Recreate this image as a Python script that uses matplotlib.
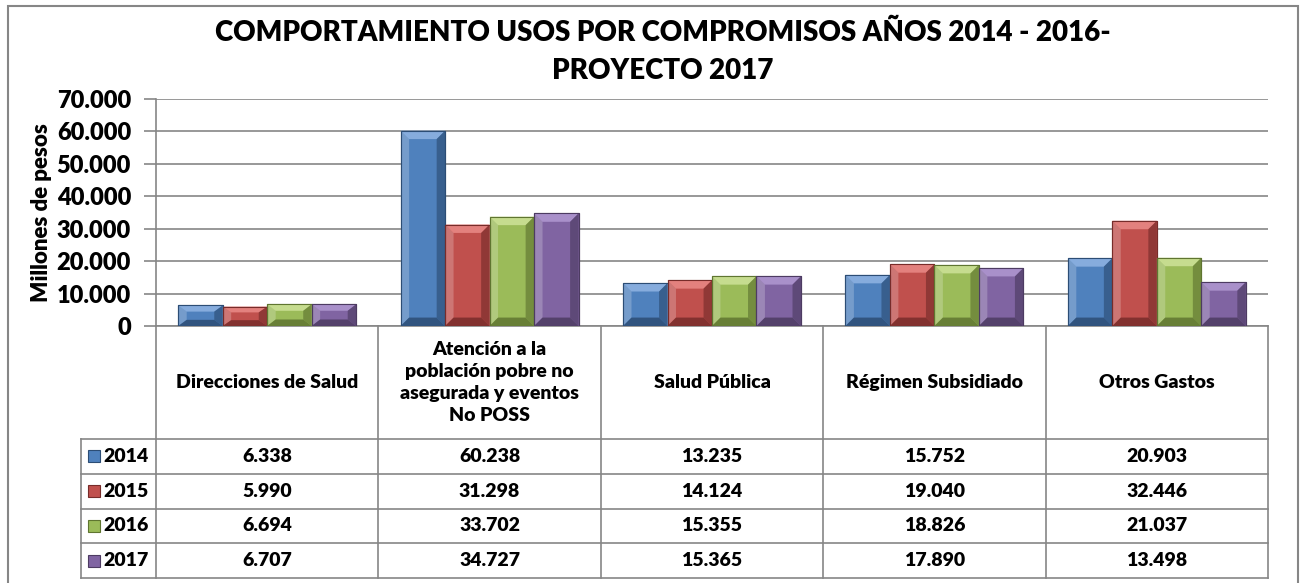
import matplotlib
matplotlib.use("Agg")
import matplotlib.pyplot as plt
from matplotlib.patches import Polygon, Rectangle
from matplotlib.lines import Line2D
import matplotlib.transforms as mtransforms
import numpy as np

plt.rcParams['font.family'] = ['Lato', 'DejaVu Sans']
PESO = 'heavy'

categorias = ["Direcciones de Salud",
              "Atención a la\npoblación pobre no\nasegurada y eventos\nNo POSS",
              "Salud Pública",
              "Régimen Subsidiado",
              "Otros Gastos"]
anios = ["2014", "2015", "2016", "2017"]
v2014 = [6338, 60238, 13235, 15752, 20903]
v2015 = [5990, 31298, 14124, 19040, 32446]
v2016 = [6694, 33702, 15355, 18826, 21037]
v2017 = [6707, 34727, 15365, 17890, 13498]
series = [v2014, v2015, v2016, v2017]

# base, claro, oscuro
colores = [("#4F81BD", "#86ACDD", "#2C4D75"),
           ("#C0504D", "#E3817E", "#772C2A"),
           ("#9BBB59", "#C6DC8F", "#5F7530"),
           ("#8064A2", "#A990CA", "#4D3B62")]

W, H = 1300, 583
fig = plt.figure(figsize=(13, 5.83), dpi=100)


def fx(px):
    return px / W


def fy(py):
    return 1 - py / H


ax = fig.add_axes([fx(156), fy(326), fx(1268) - fx(156), fy(99) - fy(326)])

x = np.arange(len(categorias))
ancho = 0.2
bx = 0.038
for i, vals in enumerate(series):
    base, claro, oscuro = colores[i]
    pos = x + (i - 1.5) * ancho
    bars = ax.bar(pos, vals, width=ancho, color=base, edgecolor=oscuro, linewidth=0.8, zorder=3)
    for b in bars:
        x0, x1 = b.get_x(), b.get_x() + b.get_width()
        h = b.get_height()
        by = min(2600, h * 0.3)
        # cara superior clara
        ax.add_patch(Polygon([(x0, h), (x1, h), (x1 - bx, h - by), (x0 + bx, h - by)],
                             closed=True, color=claro, lw=0, zorder=4))
        # lado izquierdo
        ax.add_patch(Polygon([(x0, h), (x0 + bx, h - by), (x0 + bx, by), (x0, 0)],
                             closed=True, color="white", alpha=0.22, lw=0, zorder=4))
        # lado derecho oscuro
        ax.add_patch(Polygon([(x1, h), (x1 - bx, h - by), (x1 - bx, by), (x1, 0)],
                             closed=True, color=oscuro, alpha=0.65, lw=0, zorder=4))
        # base oscura
        ax.add_patch(Polygon([(x0, 0), (x1, 0), (x1 - bx, by), (x0 + bx, by)],
                             closed=True, color=oscuro, alpha=0.85, lw=0, zorder=4))
        ax.add_patch(Rectangle((x0, 0), x1 - x0, h, fill=False, edgecolor=oscuro, lw=0.8, zorder=5))

ax.set_xlim(-0.5, len(categorias) - 0.5)
ax.set_ylim(0, 70000)
ax.set_yticks(np.arange(0, 70001, 10000))
ax.set_yticklabels([f"{int(t):,}".replace(",", ".") for t in ax.get_yticks()],
                   fontsize=17, fontweight=PESO)
ax.set_xticks([])
ax.yaxis.grid(True, color="#868686", linewidth=1.2, zorder=0)
ax.tick_params(axis='y', length=9, color="#868686", width=1.2, pad=9)
for s in ['top', 'right']:
    ax.spines[s].set_visible(False)
for s in ['left', 'bottom']:
    ax.spines[s].set_color("#868686")
    ax.spines[s].set_linewidth(1.2)
ax.set_ylabel("Millones de pesos", fontsize=16, fontweight=PESO, labelpad=3)

fig.text(fx(663), fy(33), "COMPORTAMIENTO USOS POR COMPROMISOS AÑOS 2014 - 2016-",
         ha='center', va='center', fontsize=20, fontweight=PESO)
fig.text(fx(663), fy(71), "PROYECTO 2017",
         ha='center', va='center', fontsize=20, fontweight=PESO)

# tabla de datos
gris = "#868686"
bt = mtransforms.blended_transform_factory(ax.transData, fig.transFigure)
y_head_top, y_head_bot = 326, 439
row_h = 34.75
filas_y = [y_head_bot + k * row_h for k in range(len(anios) + 1)]
x_bordes = [fx(156) + k * (fx(1268) - fx(156)) / len(categorias) for k in range(len(categorias) + 1)]
for xb in x_bordes:
    fig.add_artist(Line2D([xb, xb], [fy(y_head_top), fy(filas_y[-1])], color=gris, lw=1.2))
fig.add_artist(Line2D([fx(81), fx(81)], [fy(filas_y[0]), fy(filas_y[-1])], color=gris, lw=1.2))
for yb in filas_y:
    fig.add_artist(Line2D([fx(81), fx(1268)], [fy(yb), fy(yb)], color=gris, lw=1.2))

for j, cat in enumerate(categorias):
    fig.text(x[j], fy((y_head_top + y_head_bot) / 2), cat, transform=bt,
             ha='center', va='center', fontsize=14, fontweight=PESO, linespacing=1.35)

for i, vals in enumerate(series):
    yc = fy(filas_y[i] + row_h / 2)
    base, claro, oscuro = colores[i]
    fig.add_artist(Rectangle((fx(88), yc - 6 / H), 12 / W, 12 / H,
                             facecolor=base, edgecolor=oscuro, lw=0.8))
    fig.text(fx(103), yc, anios[i], ha='left', va='center', fontsize=14, fontweight=PESO)
    for j, v in enumerate(vals):
        fig.text(x[j], yc, f"{v:,}".replace(",", "."), transform=bt,
                 ha='center', va='center', fontsize=14, fontweight=PESO)

# marco exterior
fig.add_artist(Rectangle((fx(8), fy(590)), fx(1298) - fx(8), fy(6) - fy(590),
                         fill=False, edgecolor=gris, lw=1.5))

fig.savefig("out.png", dpi=100)
